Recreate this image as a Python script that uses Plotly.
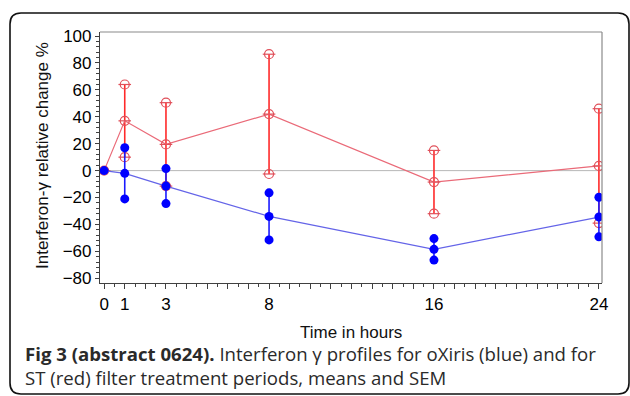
import plotly.graph_objects as go

# Sampling times (hours)
hours = [0, 1, 3, 8, 16, 24]
x_tick_labels = {0: "0", 1: "1", 3: "3", 8: "8", 16: "16", 24: "24"}

# ST filter: mean relative change (%) and SEM
st_mean = [0, 37, 19.5, 42, -8.5, 3.5]
st_sem = [0, 27, 31, 44.5, 23.5, 42.5]

# oXiris filter: mean relative change (%) and SEM
ox_mean = [0, -2, -11.5, -34, -58.5, -34.5]
ox_sem = [0, 19, 13, 17.5, 8, 14.7]

y_ticks = [-80, -60, -40, -20, 0, 20, 40, 60, 80, 100]

W, H = 630, 396
L, R, T, B = 100, 28, 32, 113
PW, PH = W - L - R, H - T - B


def px(x):
    return (x - L) / PW


def py(y):
    return (H - B - y) / PH


fig = go.Figure()


def add_series(mean, sem, line_color, bar_color, marker):
    upper = [m + s for m, s in zip(mean, sem)]
    lower = [m - s for m, s in zip(mean, sem)]
    # mean profile with SEM bars
    fig.add_trace(go.Scatter(
        x=hours, y=mean, mode="lines",
        line=dict(color=line_color, width=1.2),
        error_y=dict(type="data", symmetric=True, array=sem,
                     color=bar_color, thickness=1.6, width=0),
        hoverinfo="skip", showlegend=False))
    ex = hours[1:] * 2
    ey = upper[1:] + lower[1:]
    for xs, ys in ((ex, ey), (hours, mean)):
        for m in marker:
            fig.add_trace(go.Scatter(x=xs, y=ys, mode="markers", marker=m,
                                     showlegend=False, hoverinfo="skip"))


red_marker = [
    dict(symbol="circle-open", size=9, color="#e0505a", line=dict(width=1.2, color="#e0505a")),
    dict(symbol="line-ew", size=9, line=dict(width=1.2, color="#e0505a")),
]
blue_marker = [dict(symbol="circle", size=9, color="#0000ff", line=dict(width=0))]

add_series(st_mean, st_sem, "#ea6a78", "#ff2a2a", red_marker)
add_series(ox_mean, ox_sem, "#6464e8", "#1a1aff", blue_marker)

shapes = [
    # zero reference line
    dict(type="line", xref="paper", yref="y", x0=0, x1=1, y0=0, y1=0,
         line=dict(color="#b8b8b8", width=1), layer="below"),
    # top and right frame
    dict(type="line", xref="paper", yref="paper", x0=0, x1=1, y0=1, y1=1,
         line=dict(color="#8a8a8a", width=1.2)),
    dict(type="line", xref="paper", yref="paper", x0=1, x1=1, y0=0, y1=1,
         line=dict(color="#8a8a8a", width=1.2)),
]

# rounded card border around figure and caption
x0, x1, y0, y1, r = 10, 629, 13, 394, 11
path = (f"M {px(x0)} {py(y0 + r)} "
        f"Q {px(x0)} {py(y0)} {px(x0 + r)} {py(y0)} "
        f"L {px(x1 - r)} {py(y0)} "
        f"Q {px(x1)} {py(y0)} {px(x1)} {py(y0 + r)} "
        f"L {px(x1)} {py(y1 - r)} "
        f"Q {px(x1)} {py(y1)} {px(x1 - r)} {py(y1)} "
        f"L {px(x0 + r)} {py(y1)} "
        f"Q {px(x0)} {py(y1)} {px(x0)} {py(y1 - r)} Z")
shapes.append(dict(type="path", xref="paper", yref="paper", path=path,
                   line=dict(color="#111111", width=1.6)))

sans = "Liberation Sans, Arial, sans-serif"
axis_font = dict(family=sans, size=17, color="#000000")

annotations = [
    dict(text="Interferon-γ relative change %", xref="paper", yref="paper",
         x=px(42), y=py(156), textangle=-90, showarrow=False,
         font=dict(family=sans, size=17, color="#111111"),
         xanchor="center", yanchor="middle"),
    dict(text="Time in hours", xref="paper", yref="paper",
         x=px(351), y=py(332), showarrow=False,
         font=dict(family=sans, size=17, color="#111111"),
         xanchor="center", yanchor="middle"),
    dict(text="<b>Fig 3 (abstract 0624).</b> Interferon γ profiles for oXiris (blue) and for"
              "<br>ST (red) filter treatment periods, means and SEM",
         xref="paper", yref="paper", x=px(23), y=py(365), showarrow=False,
         font=dict(family="Open Sans, sans-serif", size=18.6, color="#2a2a2a"),
         xanchor="left", yanchor="middle", align="left"),
]

fig.update_layout(
    width=W, height=H,
    margin=dict(l=L, r=R, t=T, b=B, autoexpand=False),
    paper_bgcolor="white", plot_bgcolor="white",
    showlegend=False,
    shapes=shapes,
    annotations=annotations,
    xaxis=dict(
        range=[-0.2, 24.15], showgrid=False, zeroline=False,
        showline=True, linecolor="#404040", linewidth=1.2,
        tickmode="array", tickvals=list(range(25)),
        ticktext=[x_tick_labels.get(h, "") for h in range(25)],
        ticks="outside", ticklen=5, tickwidth=1, tickcolor="#404040",
        tickfont=axis_font,
        minor=dict(dtick=0.5, ticks="outside", ticklen=3, tickcolor="#404040", showgrid=False),
    ),
    yaxis=dict(
        range=[-83.5, 103], showgrid=False, zeroline=False,
        showline=True, linecolor="#404040", linewidth=1.2,
        tickmode="array", tickvals=y_ticks,
        ticks="outside", ticklen=4, tickwidth=1, tickcolor="#404040",
        tickfont=axis_font,
        minor=dict(dtick=4, tick0=0, ticks="outside", ticklen=2.5, tickcolor="#404040", showgrid=False),
    ),
)

fig.write_html("out.html")
